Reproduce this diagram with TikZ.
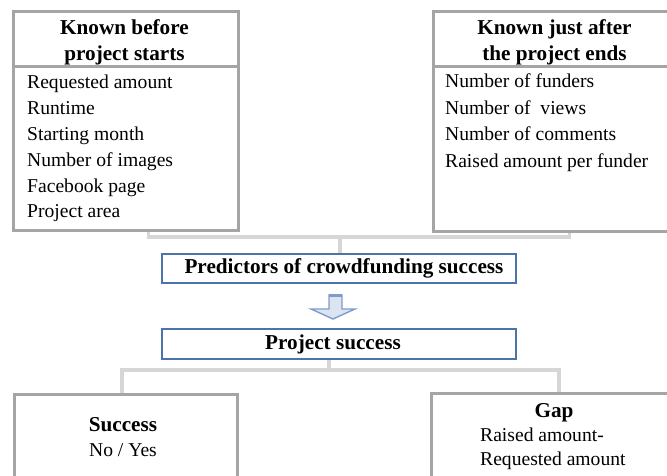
\documentclass[tikz,border=0pt]{standalone}
\usepackage{fontspec}
\setmainfont{Liberation Serif}
\definecolor{boxgray}{HTML}{A5A5A5}
\definecolor{linkgray}{HTML}{D6D6D6}
\definecolor{boxblue}{HTML}{4A74AA}
\definecolor{arrowfill}{HTML}{DCE4F2}
\definecolor{arrowline}{HTML}{7C9CCB}
\begin{document}
\begin{tikzpicture}[x=1pt,y=-1pt,
  txt/.style={font=\fontsize{19.6}{24}\selectfont, inner sep=0pt},
  hdr/.style={txt, font=\fontsize{21.2}{25}\selectfont\bfseries, anchor=base},
  item/.style={txt, anchor=base west},
  graybox/.style={draw=boxgray, line width=3pt, fill=white, anchor=north west, inner sep=0pt},
  bluebox/.style={draw=boxblue, line width=2.4pt, fill=white, anchor=north west, inner sep=0pt},
  conn/.style={draw=linkgray, line width=3.2pt},
  divider/.style={draw=boxgray, line width=3pt}]
\useasboundingbox (0,0) rectangle (667,476);
\clip (0,0) rectangle (667,476);

% frames
\node[graybox, minimum width=225pt, minimum height=219pt] (before) at (12,10) {};
\node[graybox, minimum width=245pt, minimum height=220pt] (after) at (432,10) {};
\node[bluebox, minimum width=354pt, minimum height=29pt] (pred) at (161,253) {};
\node[bluebox, minimum width=354pt, minimum height=30pt] (succ) at (161,328) {};
\node[graybox, minimum width=223pt, minimum height=120pt] (success) at (13,393) {};
\node[graybox, minimum width=248pt, minimum height=120pt] (gap) at (430,392) {};

% connectors
\coordinate (bus1) at (340,237);
\coordinate (bus2) at (329,370);
\draw[conn] ([xshift=22.5pt]before.south) |- (bus1) -| ([xshift=13.5pt]after.south);
\draw[conn] (bus1) -- (pred.north -| bus1);
\draw[conn] (succ.south -| bus2) -- (bus2);
\draw[conn] (success.north -| 122,0) |- (bus2) -| (gap.north -| 559,0);

% header dividers
\draw[divider] (before.west |- 0,67) -- (before.east |- 0,67);
\draw[divider] (after.west |- 0,67) -- (after.east |- 0,67);

% block arrow between the two blue boxes
\filldraw[fill=arrowfill, draw=arrowline, line width=1.4pt, line join=miter]
  (329,295) -- (342,295) -- (342,309) -- (355,309) -- (333,319) -- (311,309) -- (329,309) -- cycle;
\draw[draw=arrowline, line width=2.4pt] (329,295.5) -- (342,295.5);

% texts: before project
\node[hdr] (b1) at (124.5,35) {Known before};
\node[hdr] (b2) at (124.5,61) {project starts};
\node[item] (bi1) at (27,89) {Requested amount};
\node[item] (bi2) at (27,114.8) {Runtime};
\node[item] (bi3) at (27,140.6) {Starting month};
\node[item] (bi4) at (27,166.4) {Number of images};
\node[item] (bi5) at (27,192.2) {Facebook page};
\node[item] (bi6) at (27,218) {Project area};

% texts: after project
\node[hdr] (a1) at (554.5,35) {Known just after};
\node[hdr] (a2) at (554.5,61) {the project ends};
\node[item] (ai1) at (445,88) {Number of funders};
\node[item] (ai2) at (445,114.5) {Number of\ \ views};
\node[item] (ai3) at (445,141) {Number of comments};
\node[item] (ai4) at (445,167.5) {Raised amount per funder};

% middle labels
\node[hdr] (p1) at (344,273) {Predictors of crowdfunding success};
\node[hdr] (s1) at (333,349) {Project success};

% outcome texts
\node[hdr] (o1) at (123,431.5) {Success};
\node[txt, anchor=base] (o2) at (123,456) {No / Yes};
\node[hdr] (g1) at (554,417) {Gap};
\node[item] (g2) at (480,441.5) {Raised amount-};
\node[item] (g3) at (480,465.5) {Requested amount};
\end{tikzpicture}
\end{document}
